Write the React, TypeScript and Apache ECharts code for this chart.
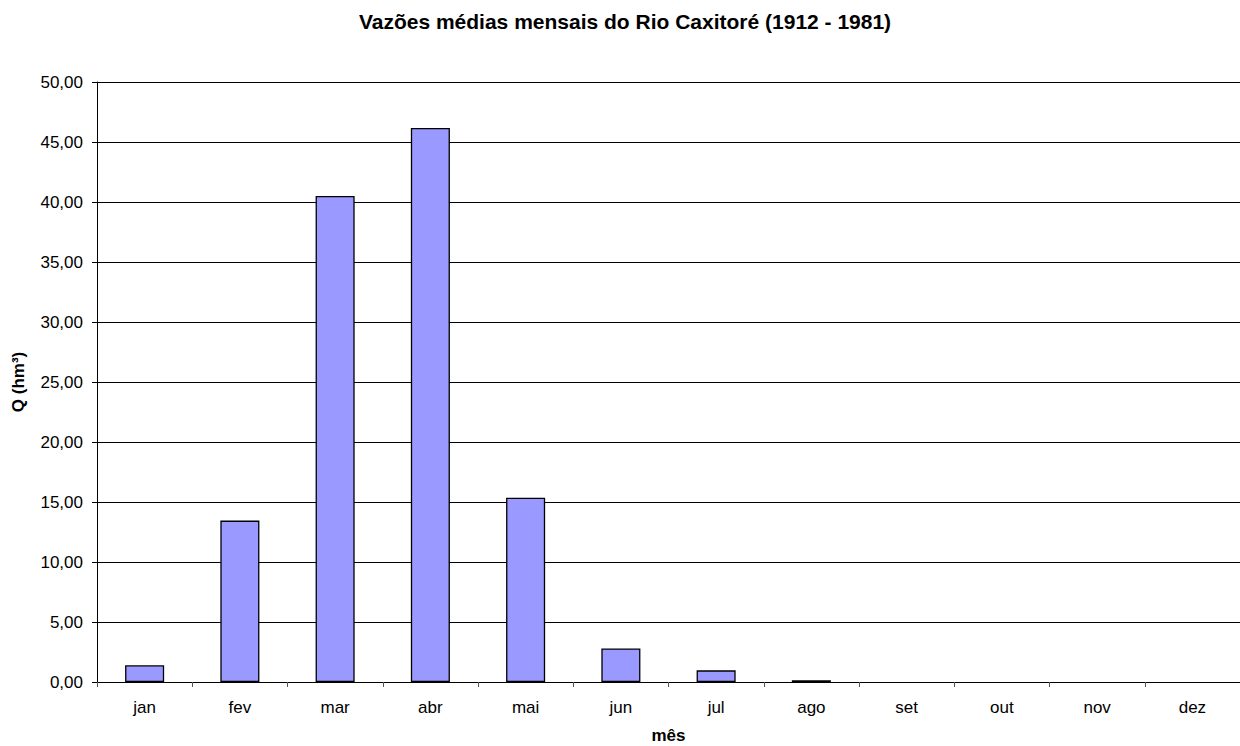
import React, { useEffect, useRef } from "react";
import * as echarts from "echarts";

const months = ["jan", "fev", "mar", "abr", "mai", "jun", "jul", "ago", "set", "out", "nov", "dez"];
const flows = [1.39, 13.45, 40.5, 46.17, 15.35, 2.8, 0.97, 0.14, 0, 0, 0, 0];
const yTicks = { min: 0, max: 50, interval: 5 };
const titleText = "Vazões médias mensais do Rio Caxitoré (1912 - 1981)";
const yName = "Q (hm³)";
const xName = "mês";

const FONT = "Arial, 'Liberation Sans', sans-serif";

export default function App() {
  const ref = useRef<HTMLDivElement>(null);
  useEffect(() => {
    document.body.style.margin = "0";
    const chart = echarts.init(ref.current!, null, { renderer: "svg" });
    chart.setOption({
      animation: false,
      backgroundColor: "#ffffff",
      textStyle: { fontFamily: FONT },
      title: {
        text: titleText,
        left: 620,
        textAlign: "center",
        top: 6,
        textStyle: { fontFamily: FONT, fontSize: 21, fontWeight: "bold", color: "#000" },
      },
      grid: {
        left: 97,
        right: 0,
        top: 82,
        bottom: 64,
        containLabel: false,
        outerBoundsMode: "none",
      },
      xAxis: {
        type: "category",
        data: months,
        name: xName,
        nameLocation: "middle",
        nameGap: 45,
        nameTextStyle: { fontFamily: FONT, fontSize: 17, fontWeight: "bold", color: "#000" },
        axisLine: { lineStyle: { color: "#000", width: 1 } },
        axisTick: { show: true, length: 5, inside: false, lineStyle: { color: "#555" } },
        axisLabel: { fontFamily: FONT, fontSize: 17, color: "#000", margin: 17 },
      },
      yAxis: {
        type: "value",
        min: yTicks.min,
        max: yTicks.max,
        interval: yTicks.interval,
        name: yName,
        nameLocation: "middle",
        nameGap: 70,
        nameRotate: 90,
        nameTextStyle: { fontFamily: FONT, fontSize: 17, fontWeight: "bold", color: "#000" },
        axisLine: { show: true, lineStyle: { color: "#000", width: 1 } },
        axisTick: { show: true, length: 5, lineStyle: { color: "#000" } },
        axisLabel: {
          fontFamily: FONT,
          fontSize: 17,
          color: "#000",
          margin: 14,
          formatter: (v: number) => v.toFixed(2).replace(".", ","),
        },
        splitLine: { show: true, lineStyle: { color: "#000", width: 1 } },
      },
      series: [
        {
          type: "bar",
          data: flows.map((v) => (v === 0 ? { value: v, itemStyle: { borderWidth: 0 } } : v)),
          barCategoryGap: "59%",
          itemStyle: { color: "#9999ff", borderColor: "#000", borderWidth: 1.3 },
        },
      ],
    });
    return () => chart.dispose();
  }, []);
  return <div ref={ref} style={{ width: 1240, height: 746 }} />;
}
